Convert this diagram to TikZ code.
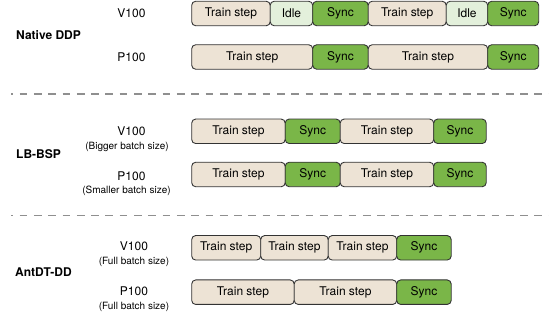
\documentclass[tikz,border=0pt]{standalone}
\usepackage{fontspec}
\setmainfont{TeX Gyre Heros}
\usetikzlibrary{positioning}
\definecolor{trainfill}{HTML}{EDE3D5}
\definecolor{idlefill}{HTML}{E3F0DB}
\definecolor{syncfill}{HTML}{7AB648}
\definecolor{boxline}{HTML}{333333}
\definecolor{sepline}{HTML}{8F8F8F}
\tikzset{
every picture/.style={x=1pt, y=-1pt},
%%%%%%%%%%  Node styles
block/.style={draw=boxline, line width=0.9pt, rounded corners=4pt,
              inner sep=0, outer sep=0, minimum height=24.5pt, anchor=west,
              font=\fontsize{12}{14}\selectfont},
train/.style={block, fill=trainfill, minimum width=#1},
idle/.style={block, fill=idlefill, minimum width=#1},
sync/.style={block, fill=syncfill, minimum width=#1},
method/.style={font=\fontsize{12}{14}\selectfont\bfseries, anchor=west,
               inner sep=0},
gpu/.style={font=\fontsize{12}{14}\selectfont, inner sep=0},
note/.style={font=\fontsize{10}{12}\selectfont, inner sep=0},
%%%% separator line
separator/.style={draw=sepline, line width=1.4pt,
                  dash pattern=on 7.7pt off 6.6pt, dash phase=5.7pt}
}

\begin{document}
\begin{tikzpicture}
\useasboundingbox (0,0) rectangle (549,320);
%% Native DDP
\node[method] (ddp) at (16,35) {Native DDP};
\node[gpu] (ddpv) at (131.5,13.5) {V100};
\node[gpu] (ddpp) at (131.5,57.3) {P100};
\node[train=78.5] (dv1) at (191.7,13.5) {Train step};
\node[idle=42.5, right=0pt of dv1] (dv2) {Idle};
\node[sync=55.5, right=0pt of dv2] (dv3) {Sync};
\node[train=78, right=0pt of dv3] (dv4) {Train step};
\node[idle=41.5, right=0pt of dv4] (dv5) {Idle};
\node[sync=51, right=0pt of dv5] (dv6) {Sync};
\node[train=121] (dp1) at (191.7,57) {Train step};
\node[sync=55.5, right=0pt of dp1] (dp2) {Sync};
\node[train=119.5, right=0pt of dp2] (dp3) {Train step};
\node[sync=51, right=0pt of dp3] (dp4) {Sync};
\coordinate (s1a) at (11,94);
\coordinate (s1b) at (549,94);
\draw[separator] (s1a) -- (s1b);
%% LB-BSP
\node[method] (lb) at (16,154.3) {LB-BSP};
\node[gpu] (lbv) at (131.5,131) {V100};
\node[note] (lbvn) at (127,146.7) {(Bigger batch size)};
\node[gpu] (lbp) at (131.5,176) {P100};
\node[note] (lbpn) at (126.5,191) {(Smaller batch size)};
\node[train=93.5] (lv1) at (191.7,131.3) {Train step};
\node[sync=55, right=0pt of lv1] (lv2) {Sync};
\node[train=93.5, right=0pt of lv2] (lv3) {Train step};
\node[sync=52.5, right=0pt of lv3] (lv4) {Sync};
\node[train=93.5] (lp1) at (191.7,174.5) {Train step};
\node[sync=55, right=0pt of lp1] (lp2) {Sync};
\node[train=93.5, right=0pt of lp2] (lp3) {Train step};
\node[sync=52.5, right=0pt of lp3] (lp4) {Sync};
\coordinate (s2a) at (11,215.5);
\coordinate (s2b) at (549,215.5);
\draw[separator] (s2a) -- (s2b);
%% AntDT-DD
\node[method] (ant) at (15,271.7) {AntDT-DD};
\node[gpu] (antv) at (134,246.7) {V100};
\node[note] (antvn) at (134,261.7) {(Full batch size)};
\node[gpu] (antp) at (134,291.7) {P100};
\node[note] (antpn) at (134,306.7) {(Full batch size)};
\node[train=69] (av1) at (191.7,247.8) {Train step};
\node[train=67.5, right=0pt of av1] (av2) {Train step};
\node[train=68.5, right=0pt of av2] (av3) {Train step};
\node[sync=54.5, right=0pt of av3] (av4) {Sync};
\node[train=102.5] (ap1) at (191.7,292.2) {Train step};
\node[train=102.5, right=0pt of ap1] (ap2) {Train step};
\node[sync=54.5, right=0pt of ap2] (ap3) {Sync};
\end{tikzpicture}
\end{document}
